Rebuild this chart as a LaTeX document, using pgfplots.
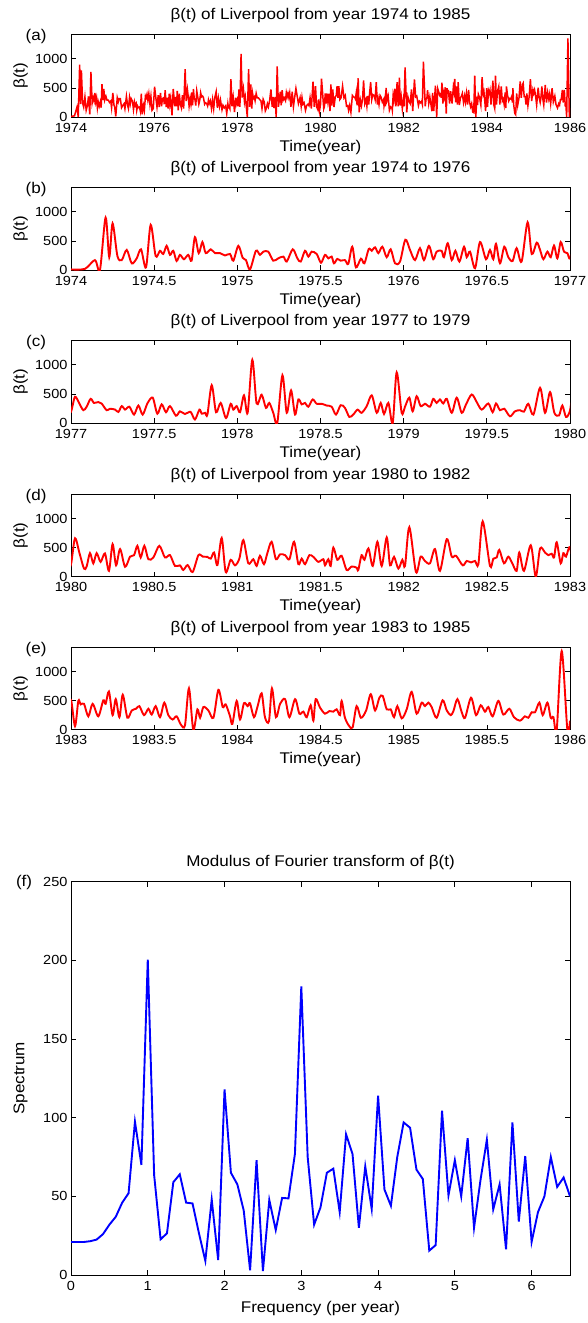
\documentclass[border=0pt]{standalone}
\usepackage{fontspec}
\setmainfont{Liberation Sans}[FakeStretch=1.1]
\usepackage{pgfplots}
\usepackage{pgfplotstable}
\pgfplotsset{compat=1.18}

% beta(t) for Liverpool, 1974--1986
\pgfplotstableread{
t beta
1974.000 10
1974.084 20
1974.144 170
1974.174 0
1974.208 900
1974.230 220
1974.250 800
1974.279 240
1974.305 170
1974.335 345
1974.365 115
1974.395 200
1974.421 355
1974.451 45
1974.479 775
1974.509 240
1974.535 330
1974.555 275
1974.575 415
1974.595 260
1974.615 330
1974.635 155
1974.655 260
1974.679 185
1974.705 260
1974.725 160
1974.745 565
1974.768 290
1974.790 480
1974.810 290
1974.840 355
1974.866 290
1974.896 290
1974.926 250
1974.956 275
1974.976 160
1975.006 415
1975.032 210
1975.052 170
1975.076 10
1975.112 330
1975.136 260
1975.156 315
1975.186 315
1975.216 160
1975.246 200
1975.277 230
1975.297 145
1975.333 355
1975.361 200
1975.381 145
1975.407 330
1975.427 230
1975.447 315
1975.477 275
1975.503 125
1975.527 260
1975.547 200
1975.567 230
1975.581 115
1975.601 190
1975.621 160
1975.647 170
1975.667 105
1975.691 400
1975.713 45
1975.743 195
1975.764 115
1975.790 360
1975.808 330
1975.828 390
1975.848 290
1975.872 400
1975.898 220
1975.922 355
1975.948 115
1975.978 145
1976.010 520
1976.038 345
1976.068 170
1976.098 375
1976.122 170
1976.152 415
1976.178 185
1976.198 315
1976.228 330
1976.242 220
1976.265 460
1976.289 170
1976.311 330
1976.335 145
1976.363 400
1976.379 220
1976.399 315
1976.429 30
1976.459 480
1976.495 185
1976.519 345
1976.539 185
1976.555 450
1976.579 115
1976.605 400
1976.629 220
1976.655 155
1976.679 375
1976.709 145
1976.745 820
1976.770 275
1976.800 470
1976.820 345
1976.840 185
1976.864 315
1976.884 220
1976.904 420
1976.924 200
1976.944 480
1976.964 315
1976.984 290
1977.000 195
1977.024 450
1977.050 335
1977.074 220
1977.094 280
1977.118 415
1977.138 345
1977.164 360
1977.184 335
1977.214 220
1977.234 245
1977.265 230
1977.285 190
1977.305 290
1977.325 230
1977.351 280
1977.379 145
1977.405 300
1977.431 145
1977.459 335
1977.491 435
1977.519 160
1977.545 320
1977.571 185
1977.595 290
1977.631 125
1977.655 200
1977.685 155
1977.719 190
1977.745 60
1977.772 230
1977.786 160
1977.806 175
1977.820 145
1977.846 650
1977.872 185
1977.900 345
1977.932 85
1977.960 330
1977.976 230
1977.996 290
1978.016 185
1978.040 475
1978.062 175
1978.090 1085
1978.116 335
1978.146 485
1978.172 260
1978.192 345
1978.216 175
1978.240 0
1978.271 820
1978.297 175
1978.323 560
1978.347 145
1978.367 405
1978.387 320
1978.407 345
1978.427 280
1978.453 405
1978.477 330
1978.507 330
1978.537 300
1978.567 280
1978.593 145
1978.621 305
1978.647 260
1978.673 105
1978.697 145
1978.723 230
1978.747 175
1978.778 290
1978.808 475
1978.838 175
1978.862 345
1978.882 155
1978.908 345
1978.934 0
1978.958 870
1978.988 175
1979.008 280
1979.034 435
1979.054 200
1979.078 460
1979.102 290
1979.128 330
1979.158 280
1979.178 415
1979.198 345
1979.218 405
1979.238 335
1979.259 415
1979.289 175
1979.319 435
1979.349 175
1979.375 320
1979.409 490
1979.439 360
1979.469 230
1979.509 335
1979.535 185
1979.555 335
1979.579 220
1979.605 245
1979.639 115
1979.669 200
1979.699 220
1979.723 195
1979.749 330
1979.780 145
1979.820 605
1979.850 175
1979.880 530
1979.906 175
1979.934 130
1979.954 300
1979.976 105
1980.000 215
1980.024 660
1980.050 415
1980.078 140
1980.094 175
1980.114 405
1980.134 230
1980.154 405
1980.178 255
1980.204 400
1980.228 100
1980.250 560
1980.271 195
1980.295 475
1980.325 170
1980.355 345
1980.379 370
1980.399 530
1980.419 330
1980.441 530
1980.465 300
1980.495 330
1980.531 530
1980.565 330
1980.595 370
1980.625 185
1980.655 195
1980.675 115
1980.701 200
1980.731 80
1980.766 370
1980.792 345
1980.820 340
1980.840 310
1980.860 415
1980.880 200
1980.906 665
1980.930 80
1980.960 290
1980.986 195
1981.012 310
1981.036 630
1981.066 230
1981.096 300
1981.116 185
1981.136 360
1981.160 215
1981.180 400
1981.206 600
1981.232 300
1981.257 385
1981.287 370
1981.313 300
1981.341 600
1981.367 215
1981.387 310
1981.407 215
1981.433 370
1981.457 340
1981.487 255
1981.517 300
1981.527 195
1981.547 300
1981.561 185
1981.577 500
1981.601 290
1981.627 360
1981.657 115
1981.687 175
1981.717 155
1981.727 115
1981.747 370
1981.764 290
1981.788 485
1981.814 185
1981.842 600
1981.868 185
1981.898 675
1981.918 195
1981.942 340
1981.968 140
1981.992 290
1982.008 185
1982.034 850
1982.074 80
1982.102 345
1982.128 270
1982.158 230
1982.188 475
1982.218 100
1982.259 645
1982.289 345
1982.315 360
1982.355 195
1982.379 270
1982.405 245
1982.429 270
1982.449 215
1982.475 950
1982.519 185
1982.539 310
1982.559 330
1982.575 460
1982.603 230
1982.629 345
1982.653 230
1982.679 100
1982.695 415
1982.723 100
1982.764 540
1982.794 0
1982.820 485
1982.850 415
1982.870 370
1982.890 395
1982.904 330
1982.920 590
1982.944 230
1982.960 405
1982.976 345
1983.000 510
1983.024 60
1983.044 495
1983.058 435
1983.078 445
1983.104 230
1983.130 445
1983.164 230
1983.194 505
1983.208 445
1983.228 655
1983.250 250
1983.269 525
1983.291 215
1983.311 600
1983.339 205
1983.365 330
1983.391 360
1983.411 405
1983.439 250
1983.465 360
1983.485 260
1983.509 405
1983.535 215
1983.561 465
1983.585 250
1983.611 175
1983.635 230
1983.661 85
1983.685 75
1983.709 710
1983.735 0
1983.760 350
1983.776 205
1983.796 390
1983.826 330
1983.856 205
1983.886 685
1983.912 390
1983.930 435
1983.956 230
1983.970 100
1983.996 495
1984.016 175
1984.040 455
1984.062 405
1984.076 455
1984.100 215
1984.122 405
1984.146 625
1984.166 215
1984.190 145
1984.208 710
1984.232 215
1984.257 445
1984.287 525
1984.313 215
1984.347 525
1984.373 275
1984.397 310
1984.417 215
1984.441 420
1984.457 155
1984.471 525
1984.497 380
1984.527 275
1984.553 320
1984.577 310
1984.597 350
1984.617 250
1984.627 495
1984.647 205
1984.673 60
1984.693 40
1984.717 405
1984.743 205
1984.774 330
1984.802 610
1984.828 330
1984.854 550
1984.874 580
1984.898 350
1984.922 350
1984.942 215
1984.962 405
1984.988 195
1985.018 350
1985.048 650
1985.078 275
1985.108 465
1985.128 405
1985.148 465
1985.168 390
1985.198 205
1985.234 505
1985.259 330
1985.283 250
1985.299 320
1985.323 525
1985.349 300
1985.369 205
1985.405 550
1985.435 250
1985.463 420
1985.489 310
1985.509 390
1985.535 230
1985.569 495
1985.599 260
1985.635 360
1985.663 215
1985.699 155
1985.729 230
1985.749 205
1985.770 300
1985.790 300
1985.816 465
1985.836 250
1985.864 465
1985.884 205
1985.900 215
1985.920 0
1985.950 1350
1985.984 0
1986.000 155
}\betadata

% modulus of the Fourier transform, frequency step 1/12 per year
\pgfplotstableread{
f S
0.000 21
0.083 21
0.167 21
0.250 21.5
0.333 22.5
0.417 26
0.500 32
0.583 37
0.667 46
0.750 52
0.833 97.5
0.917 70
1.000 200.5
1.083 63.5
1.167 22.7
1.250 26.5
1.333 59
1.417 64
1.500 46
1.583 45.5
1.667 26.5
1.750 9
1.833 48
1.917 9.5
2.000 118
2.083 65
2.167 57.6
2.250 41
2.333 3
2.417 73
2.500 2.5
2.583 47.7
2.667 28.6
2.750 49
2.833 48.7
2.917 77
3.000 183.5
3.083 75
3.167 32
3.250 43
3.333 65
3.417 67.6
3.500 40
3.583 89.4
3.667 77
3.750 30
3.833 69
3.917 42
4.000 114
4.083 54.4
4.167 44
4.250 75
4.333 97
4.417 93.6
4.500 67
4.583 61
4.667 15.5
4.750 19
4.833 104.4
4.917 50.6
5.000 73
5.083 50
5.167 87
5.250 30
5.333 60
5.417 86
5.500 41.7
5.583 57.6
5.667 16.3
5.750 97
5.833 34
5.917 75.6
6.000 21
6.083 40
6.167 50
6.250 75
6.333 56
6.417 62
6.500 50
}\specdata

\newcommand\labelfont{\fontsize{15.5}{17}\selectfont}
\tikzset{tag/.style={font=\labelfont}}

\pgfplotsset{
  base/.style={
    scale only axis, width=499pt,
    tick align=inside, major tick length=5pt,
    axis line style={line width=0.7pt},
    every tick/.style={line width=0.7pt,black},
    scaled x ticks=false, scaled y ticks=false,
    /pgf/number format/1000 sep={},
    /pgf/number format/assume math mode=true,
    ticklabel style={font=\fontsize{13.2}{15}\selectfont},
    xticklabel style={yshift=-2.5pt},
    every axis title shift=0pt,
    title style={font=\labelfont,
                 at={(rel axis cs:0.5,1)}, anchor=center, yshift=19pt},
    every axis x label/.style={font=\labelfont,
                 at={(rel axis cs:0.5,0)}, anchor=center, yshift=-30pt},
    every axis y label/.style={font=\labelfont,
                 at={(rel axis cs:-0.101,0.5)}, anchor=center, rotate=90},
    clip mode=individual,
  },
  panel/.style={
    base, height=82.7pt,
    ymin=0, ymax=1420, ytick={0,500,1000},
    ylabel={β(t)}, xlabel={Time(year)},
  },
}

\begin{document}
\begin{tikzpicture}
\useasboundingbox (0pt,0pt) rectangle (587pt,-1323pt);

% (a) the whole period
\begin{axis}[panel, at={(71pt,-117pt)}, anchor=south west,
  xmin=1974, xmax=1986, xtick={1974,1976,...,1986},
  title={β(t) of Liverpool from year 1974 to 1985}]
  \addplot[red, line width=1.5pt] table[x=t,y=beta] {\betadata};
  \node[tag] at (rel axis cs:-0.07,0.97) {(a)};
\end{axis}

% (b) 1974--1976
\begin{axis}[panel, at={(71pt,-270pt)}, anchor=south west,
  xmin=1974, xmax=1977, xtick={1974,1974.5,...,1977},
  title={β(t) of Liverpool from year 1974 to 1976}]
  \addplot[red, line width=1.9pt, smooth] table[x=t,y=beta] {\betadata};
  \node[tag] at (rel axis cs:-0.07,0.97) {(b)};
\end{axis}

% (c) 1977--1979
\begin{axis}[panel, at={(71pt,-423pt)}, anchor=south west,
  xmin=1977, xmax=1980, xtick={1977,1977.5,...,1980},
  title={β(t) of Liverpool from year 1977 to 1979}]
  \addplot[red, line width=1.9pt, smooth] table[x=t,y=beta] {\betadata};
  \node[tag] at (rel axis cs:-0.07,0.97) {(c)};
\end{axis}

% (d) 1980--1982
\begin{axis}[panel, at={(71pt,-576.7pt)}, anchor=south west,
  xmin=1980, xmax=1983, xtick={1980,1980.5,...,1983},
  title={β(t) of Liverpool from year 1980 to 1982}]
  \addplot[red, line width=1.9pt, smooth] table[x=t,y=beta] {\betadata};
  \node[tag] at (rel axis cs:-0.07,0.97) {(d)};
\end{axis}

% (e) 1983--1985
\begin{axis}[panel, at={(71pt,-729.7pt)}, anchor=south west,
  xmin=1983, xmax=1986, xtick={1983,1983.5,...,1986},
  title={β(t) of Liverpool from year 1983 to 1985}]
  \addplot[red, line width=1.9pt, smooth] table[x=t,y=beta] {\betadata};
  \node[tag] at (rel axis cs:-0.07,0.97) {(e)};
\end{axis}

% (f) spectrum
\begin{axis}[base, at={(71pt,-1275pt)}, anchor=south west, height=393.3pt,
  xmin=0, xmax=6.5, xtick={0,1,...,6},
  ymin=0, ymax=250, ytick={0,50,...,250},
  xlabel={Frequency (per year)}, ylabel={Spectrum},
  every axis x label/.style={font=\labelfont,
                 at={(rel axis cs:0.5,0)}, anchor=center, yshift=-33pt},
  title={Modulus of Fourier transform of β(t)}]
  \addplot[blue, line width=1.9pt] table[x=f,y=S] {\specdata};
  \node[tag] at (rel axis cs:-0.094,0.997) {(f)};
\end{axis}
\end{tikzpicture}
\end{document}
